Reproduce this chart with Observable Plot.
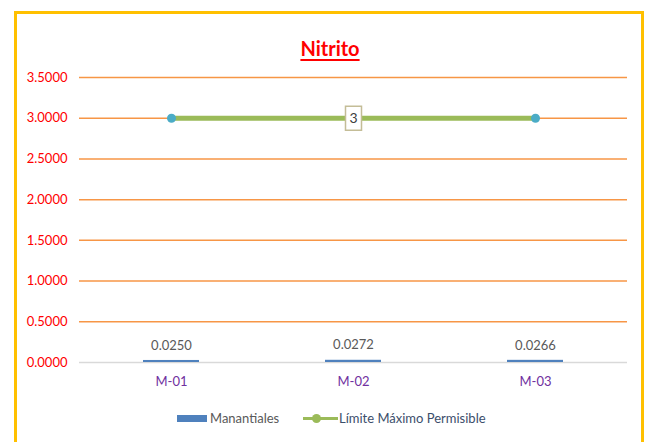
<!DOCTYPE html>
<html>
<head>
<meta charset="utf-8">
<script src="https://cdn.jsdelivr.net/npm/d3@7"></script>
<script src="https://cdn.jsdelivr.net/npm/@observablehq/plot@0.6"></script>
<style>
  body { margin: 0; background: #fff; font-family: Lato, "Open Sans", sans-serif; }
  #wrap { position: relative; width: 647px; height: 442px; overflow: hidden; }
  #frame { position: absolute; left: 14px; top: 11px; width: 624px; height: 450px; border: 3px solid #FFC000; box-sizing: content-box; }
  #title { position: absolute; left: 0; width: 660px; top: 36px; text-align: center; font-weight: bold; font-size: 20px; color: #FF0000; text-decoration: underline; text-underline-offset: 3px; }
  #legend { position: absolute; top: 410px; left: 0; width: 647px; font-size: 13px; }
  #chart { position: absolute; left: 0; top: 0; }
</style>
</head>
<body>
<div id="wrap">
  <div id="frame"></div>
  <div id="chart"></div>
  <div id="title">Nitrito</div>
  <div id="legend">
    <span style="position:absolute;left:177px;top:5px;width:30px;height:7px;background:#4F81BD"></span>
    <span style="position:absolute;left:210px;top:0;color:#595959">Manantiales</span>
    <span style="position:absolute;left:303px;top:7px;width:35px;height:3px;background:#9BBB59"></span>
    <span style="position:absolute;left:312px;top:4px;width:9px;height:9px;border-radius:50%;background:#9BBB59"></span>
    <span style="position:absolute;left:339px;top:0;color:#3B4E6B">Límite Máximo Permisible</span>
  </div>
</div>
<script>
const categories = ["M-01", "M-02", "M-03"];
const manantiales = [0.0250, 0.0272, 0.0266];
const limite = [3, 3, 3];
const yTicks = [0, 0.5, 1, 1.5, 2, 2.5, 3, 3.5];

const data = categories.map((c, i) => ({cat: c, v: manantiales[i], lmp: limite[i]}));
const midIndex = 1;

const boxSymbol = { draw(ctx) { ctx.rect(-8, -12, 16, 24); } };

const plot = Plot.plot({
  width: 647,
  height: 442,
  marginLeft: 79,
  marginRight: 20,
  marginTop: 77,
  marginBottom: 80,
  style: { fontFamily: "Lato, 'Open Sans', sans-serif", background: "transparent" },
  x: { domain: categories, paddingInner: 0.69, paddingOuter: 0.345, label: null },
  y: { domain: [0, 3.5], label: null },
  marks: [
    Plot.ruleY(yTicks.filter(d => d > 0), { stroke: "#F79646", strokeWidth: 1.5 }),
    Plot.ruleY([0], { stroke: "#D9D9D9", strokeWidth: 1.5 }),
    Plot.axisY({ ticks: yTicks, tickFormat: d3.format(".4f"), tickSize: 0, tickPadding: 12, fontSize: 13, color: "#FF0000", label: null }),
    Plot.axisX({ tickSize: 0, tickPadding: 14, fontSize: 13, color: "#7030A0", label: null }),
    Plot.barY(data, { x: "cat", y: "v", fill: "#4F81BD" }),
    Plot.text(data, { x: "cat", y: "v", text: d => d3.format(".4f")(d.v), dy: -15, fontSize: 13, fill: "#595959" }),
    Plot.lineY(data, { x: "cat", y: "lmp", stroke: "#9BBB59", strokeWidth: 5 }),
    Plot.dot(data, { x: "cat", y: "lmp", r: 4.5, fill: "#4BACC6" }),
    Plot.dot(data.filter((d, i) => i === midIndex), { x: "cat", y: "lmp", symbol: boxSymbol, fill: "#fff", stroke: "#C4BD97", strokeWidth: 1.5 }),
    Plot.text(data.filter((d, i) => i === midIndex), { x: "cat", y: "lmp", text: d => String(d.lmp), fontSize: 14, fill: "#404040" })
  ]
});
document.getElementById("chart").appendChild(plot);
</script>
</body>
</html>
